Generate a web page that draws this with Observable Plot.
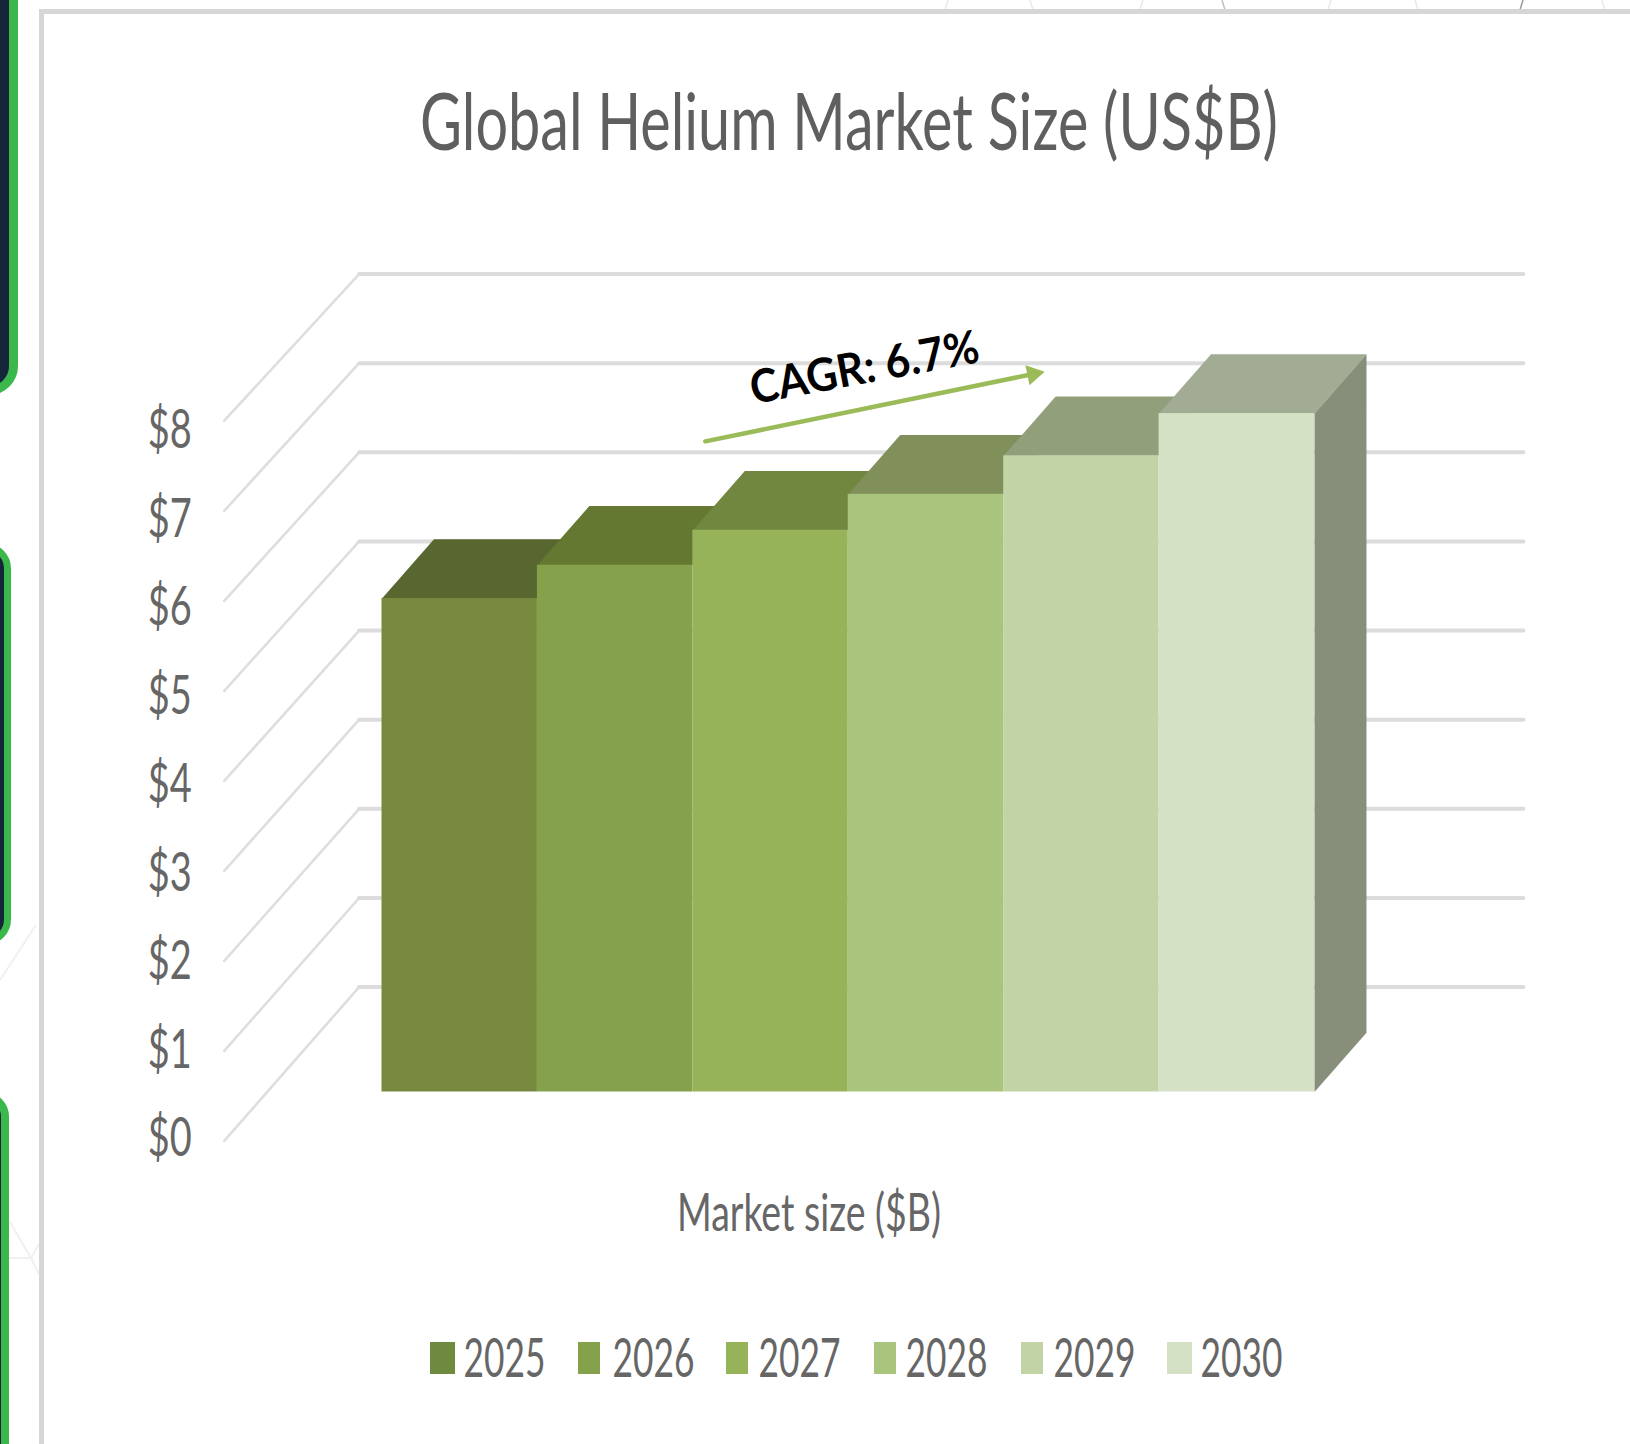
<!DOCTYPE html>
<html>
<head>
<meta charset="utf-8">
<script src="https://cdn.jsdelivr.net/npm/d3@7"></script>
<script src="https://cdn.jsdelivr.net/npm/@observablehq/plot@0.6"></script>
<style>
  html, body { margin: 0; padding: 0; background: #fff; }
  #page { position: relative; width: 1630px; height: 1444px; overflow: hidden; background: #fff; }
  .side { position: absolute; box-sizing: border-box; background: #16263a; border: solid #3bb84b; border-radius: 30px; }
  #panel { position: absolute; left: 39px; top: 9px; width: 1620px; height: 1480px; box-sizing: border-box; border: 5px solid #d6d6d6; background: #fff; }
  #chart { position: absolute; left: 0; top: 0; }
  #backdrop { position: absolute; left: 0; top: 0; }
</style>
</head>
<body>
<div id="page">
  <svg id="backdrop" width="1630" height="1444" fill="none" stroke-width="1.5">
    <g stroke="#e8e8e8">
      <path d="M948 0l-3 10M1030 0l3 10M1143 0l-3 10M1331 0l-3 10M1415 0l3 10M1602 0l3 10"/>
    </g>
    <path d="M1222 0l3 10" stroke="#bdbdbd"/>
    <path d="M1523 0l-3 10" stroke="#9a9a9a"/>
    <g stroke="#f0f0f0" stroke-width="2">
      <path d="M8 1258H31L39 1244M31 1258L39 1274M31 1258L10 1222M0 980L36 925"/>
    </g>
  </svg>
  <div class="side" style="left:-40px;top:-60px;width:58px;height:455px;border-width:9px"></div>
  <div class="side" style="left:-40px;top:543px;width:51px;height:402px;border-width:7px"></div>
  <div class="side" style="left:-40px;top:1092px;width:49px;height:420px;border-width:8px"></div>
  <div id="panel"></div>
  <div id="chart"></div>
</div>
<script>
// ---- values ----
const years = ["2025", "2026", "2027", "2028", "2029", "2030"];
const marketSize = [5.5, 5.87, 6.26, 6.66, 7.09, 7.56];
const frontColors = ["#76893e", "#86a14c", "#97b35a", "#a9c47d", "#c2d3a5", "#d5e1c5"];
const topColors = ["#58662f", "#647832", "#718740", "#818f5b", "#919f7b", "#a2ab93"];
const legendColors = ["#6e8a3e", "#86a14c", "#97b35a", "#a9c47d", "#c2d3a5", "#d5e1c5"];
const sideColor = "#878f7b";
const yTicks = [0, 1, 2, 3, 4, 5, 6, 7, 8];
const tickLabels = ["$0", "$1", "$2", "$3", "$4", "$5", "$6", "$7", "$8"];
const titleText = "Global Helium Market Size (US$B)";
const xLabelText = "Market size ($B)";
const cagrText = "CAGR: 6.7%";

// ---- chart frame ----
const xDomain = [0, 6], xRange = [381.5, 1314];
const yDomain = [0, 8], yRange = [1091.5, 373.6];
const pxX = d3.scaleLinear(xDomain, xRange), pxY = d3.scaleLinear(yDomain, yRange);

// oblique projection of (category position, value, depth) to the x/y scales
const DX = 0.3344, DY = 0.6603, SHRINK = 0.0038;
const project = (i, v, d, shrink = 0) => ({x: i + d * DX, y: v * (1 - shrink * d) + d * DY});

const wallDepth = 1.77, axisDepth = -0.825, wallLeft = -0.739, wallRight = 6.752;

const sideLines = yTicks.flatMap((v) => [
  {v, ...project(wallLeft, v, axisDepth, SHRINK)},
  {v, ...project(wallLeft, v, wallDepth, SHRINK)}
]);
const backLines = yTicks.flatMap((v) => [
  {v, ...project(wallLeft, v, wallDepth, SHRINK)},
  {v, ...project(wallRight, v, wallDepth, SHRINK)}
]);

const tickData = yTicks.map((v, k) => ({
  label: tickLabels[k],
  x: project(wallLeft, v, axisDepth, SHRINK).x,
  y: project(wallLeft, v * 0.983, axisDepth, SHRINK).y
}));

const face = (id, color, pts) => pts.map(([i, v, d]) => ({id, color, ...project(i, v, d)}));

const barMarks = years.flatMap((yr, i) => {
  const v = marketSize[i];
  return [
    Plot.line(face("top" + yr, topColors[i], [[i, v, 0], [i + 1, v, 0], [i + 1, v, 1], [i, v, 1]]), {
      x: "x", y: "y", z: "id", fill: "color", stroke: "none", curve: "linear"
    }),
    Plot.rect([{i, v, color: frontColors[i]}], {
      x1: "i", x2: (d) => d.i + 1, y1: 0, y2: "v", fill: "color", inset: 0
    })
  ];
});

const sideFace = face("side", sideColor, [
  [6, 0, 0], [6, 0, 1], [6, marketSize[5], 1], [6, marketSize[5], 0]
]);

// CAGR arrow, in chart units
const arrowLine = [{x: 2.08, y: 7.25}, {x: 4.16, y: 7.99}];
const arrowTip = [{x: 4.19, y: 8.0}];
const arrowColor = "#9bbb59";

// text positions and widths (page pixels)
const gray = "#666666";
const fontFamily = "Lato, 'Open Sans', sans-serif";
const at = (px, py) => ({x: pxX.invert(px), y: pxY.invert(py)});
const textWidths = new Map([
  [titleText, 858], [xLabelText, 264], [cagrText, 232],
  ...tickLabels.map((t) => [t, 44]), ...years.map((t) => [t, 82])
]);

const legendSwatchX = [430, 578, 726, 874, 1021, 1167];
const legendSwatchW = [25, 22, 22, 22, 22, 25];
const legendTextX = [463, 612, 758, 905, 1053, 1200];

const legendRects = years.map((yr, k) => ({
  x1: pxX.invert(legendSwatchX[k]), x2: pxX.invert(legendSwatchX[k] + legendSwatchW[k]),
  y1: pxY.invert(1374), y2: pxY.invert(1342), color: legendColors[k]
}));
const legendTexts = years.map((yr, k) => ({label: yr, ...at(legendTextX[k], 1376)}));

const chart = Plot.plot({
  width: 1630,
  height: 1444,
  margin: 0,
  style: {background: "transparent", fontFamily},
  x: {type: "linear", domain: xDomain, range: xRange, axis: null},
  y: {type: "linear", domain: yDomain, range: yRange, axis: null},
  color: {type: "identity"},
  marks: [
    Plot.line(sideLines, {x: "x", y: "y", z: "v", stroke: "#dedede", strokeWidth: 2.6, curve: "linear"}),
    Plot.line(backLines, {x: "x", y: "y", z: "v", stroke: "#dcdcdc", strokeWidth: 4, curve: "linear"}),
    ...barMarks,
    Plot.line(sideFace, {x: "x", y: "y", z: "id", fill: "color", stroke: "none", curve: "linear"}),
    Plot.text(tickData, {x: "x", y: "y", text: "label", dx: -32.5, dy: -2, fontSize: 54, fill: gray, textAnchor: "end", lineAnchor: "middle"}),
    Plot.text([titleText], {...at(848.5, 149), text: (d) => d, fontSize: 80, fill: "#5f5f5f", textAnchor: "middle", lineAnchor: "bottom"}),
    Plot.text([xLabelText], {...at(808.5, 1230), text: (d) => d, fontSize: 52, fill: gray, textAnchor: "middle", lineAnchor: "bottom"}),
    Plot.line(arrowLine, {x: "x", y: "y", stroke: arrowColor, strokeWidth: 4.5, curve: "linear"}),
    Plot.dot(arrowTip, {x: "x", y: "y", symbol: "triangle", r: 7.5, fill: arrowColor, stroke: "none", rotate: 78.5}),
    Plot.text([cagrText], {...at(864, 368), text: (d) => d, fontSize: 46, fontWeight: 700, fill: "#000", rotate: -10.5, textAnchor: "middle", lineAnchor: "middle"}),
    Plot.rect(legendRects, {x1: "x1", x2: "x2", y1: "y1", y2: "y2", fill: "color", inset: 0}),
    Plot.text(legendTexts, {x: "x", y: "y", text: "label", fontSize: 54, fill: gray, textAnchor: "start", lineAnchor: "bottom"})
  ]
});

d3.select(chart).selectAll("text").each(function () {
  const w = textWidths.get(this.textContent);
  if (w) d3.select(this).attr("textLength", w).attr("lengthAdjust", "spacingAndGlyphs");
});

document.getElementById("chart").appendChild(chart);
</script>
</body>
</html>
